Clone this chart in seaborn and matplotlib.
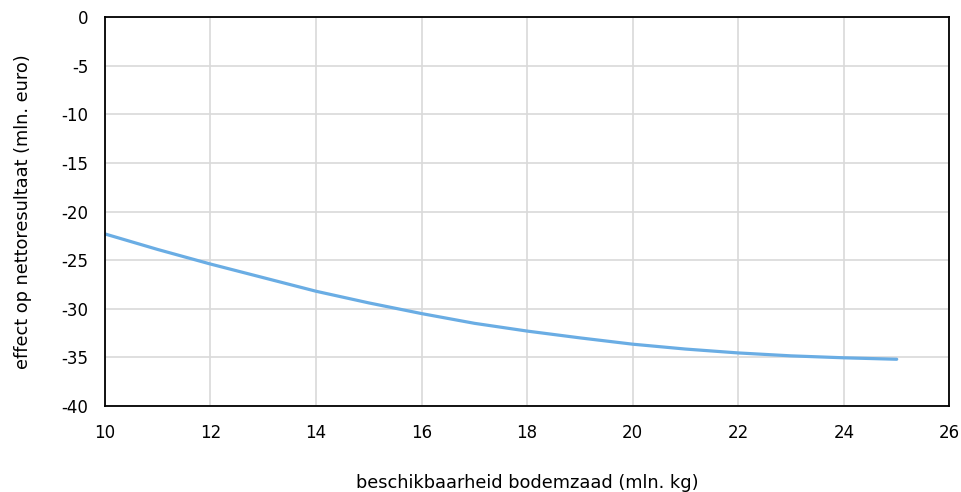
import seaborn as sns
import pandas as pd
from matplotlib import pyplot as plt

# beschikbaarheid bodemzaad (mln. kg) vs effect op nettoresultaat (mln. euro)
beschikbaarheid = [10, 11, 12, 13, 14, 15, 16, 17, 18, 19, 20, 21, 22, 23, 24, 25]
effect = [-22.3, -23.9, -25.4, -26.8, -28.2, -29.4, -30.5, -31.5, -32.3, -33.0,
          -33.65, -34.15, -34.55, -34.85, -35.05, -35.2]
xticks = [10, 12, 14, 16, 18, 20, 22, 24, 26]
yticks = [0, -5, -10, -15, -20, -25, -30, -35, -40]

df = pd.DataFrame({'x': beschikbaarheid, 'y': effect})

sns.set_style('white')
plt.rcParams['font.family'] = ['DejaVu Sans']
plt.rcParams['text.color'] = 'black'
plt.rcParams['xtick.color'] = 'black'
plt.rcParams['ytick.color'] = 'black'
plt.rcParams['axes.labelcolor'] = 'black'

fig, ax = plt.subplots(figsize=(9.62, 4.92), dpi=100)
fig.subplots_adjust(left=0.109, right=0.987, top=0.965, bottom=0.175)

sns.lineplot(data=df, x='x', y='y', ax=ax, color='#6aade4', linewidth=2.3)

ax.set_xlim(10, 26)
ax.set_ylim(-40, 0)
ax.set_xticks(xticks)
ax.set_yticks(yticks)
ax.set_xticklabels([str(t) for t in xticks], fontsize=12)
ax.set_yticklabels([str(t) for t in yticks], fontsize=12)
ax.tick_params(axis='x', length=0, pad=13)
ax.tick_params(axis='y', length=0, pad=12)
ax.grid(True, color='#d9d9d9', linewidth=1.2)
ax.set_axisbelow(True)
for s in ax.spines.values():
    s.set_color('black')
    s.set_linewidth(1.3)

ax.set_xlabel('beschikbaarheid bodemzaad (mln. kg)', fontsize=12.8, labelpad=23)
ax.set_ylabel('effect op nettoresultaat (mln. euro)', fontsize=12.8, labelpad=21)

plt.savefig('out.png', dpi=100)
